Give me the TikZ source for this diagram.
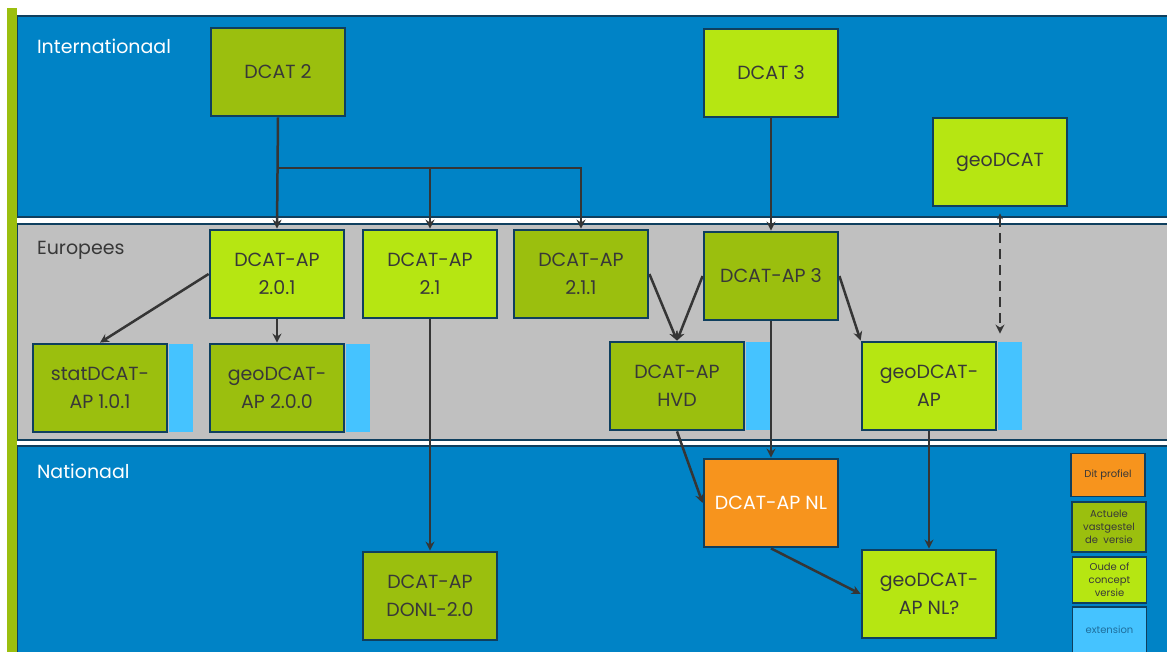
\documentclass[tikz,border=0pt]{standalone}
\usepackage{fontspec}
\setmainfont{Poppins}
\usetikzlibrary{arrows.meta, positioning}
\definecolor{bandblue}{HTML}{0083C6}
\definecolor{bandgray}{HTML}{C0C0C0}
\definecolor{edge}{HTML}{0F3F5E}
\definecolor{darkgreen}{HTML}{9BBF0E}
\definecolor{lime}{HTML}{B6E612}
\definecolor{nlorange}{HTML}{F7941D}
\definecolor{extblue}{HTML}{45C3FF}
\definecolor{textgray}{HTML}{383838}
\definecolor{linegray}{HTML}{353535}
\definecolor{exttext}{HTML}{1F6E9C}

\begin{document}
\begin{tikzpicture}[x=0.5pt, y=-0.5pt,
    spec/.style={rectangle, draw=edge, line width=1.4pt, minimum width=67pt, minimum height=44pt, align=center, text=textgray, font=\fontsize{9.5}{14}\selectfont},
    current/.style={spec, fill=darkgreen},
    concept/.style={spec, fill=lime},
    thisprofile/.style={spec, fill=nlorange, text=white},
    ext/.style={rectangle, fill=extblue, minimum width=12pt, minimum height=44pt, inner sep=0pt, anchor=west},
    link/.style={draw=linegray, line width=1.25pt, -{Stealth[length=4.5pt, width=4.5pt]}},
    band/.style={draw=edge, line width=1.2pt},
    bandlabel/.style={anchor=west, font=\fontsize{9.5}{12}\selectfont},
    legend/.style={rectangle, draw=edge, line width=0.6pt, minimum width=37pt, align=center, text=textgray, font=\fontsize{5}{6.5}\selectfont, inner sep=1pt},
]
    \useasboundingbox (0,0) rectangle (1167,652);
    % Bands
    \fill[white] (0,0) rectangle (1167,652);
    \draw[band, fill=bandblue] (17,16) rectangle (1180,217);
    \draw[band, fill=bandgray] (17,224) rectangle (1180,440);
    \draw[band, fill=bandblue] (17,446) rectangle (1180,665);
    \fill[darkgreen] (7,8) rectangle (17,652);
    \node[bandlabel, text=white] (intlabel) at (30,46) {Internationaal};
    \node[bandlabel, text=textgray] (eulabel) at (30,250) {Europees};
    \node[bandlabel, text=white] (nllabel) at (30,471) {Nationaal};

    % Internationaal
    \node[current] (dcat2) at (278,72) {DCAT 2};
    \node[concept] (dcat3) at (771,73) {DCAT 3};
    \node[concept] (geodcat) at (1000,162) {geoDCAT};

    % Europees
    \node[concept] (ap201) at (277,274) {DCAT-AP\\2.0.1};
    \node[concept] (ap21) at (430,274) {DCAT-AP\\2.1};
    \node[current] (ap211) at (581,274) {DCAT-AP\\2.1.1};
    \node[current] (ap3) at (771,276) {DCAT-AP 3};
    \node[current] (stat) at (100,388) {statDCAT-\\AP 1.0.1};
    \node[current] (geo200) at (277,388) {geoDCAT-\\AP 2.0.0};
    \node[current] (hvd) at (677,386) {DCAT-AP\\HVD};
    \node[concept] (geoap) at (929,386) {geoDCAT-\\AP};
    \node[ext] (statext) at (stat.east) {};
    \node[ext] (geo200ext) at (geo200.east) {};
    \node[ext] (hvdext) at (hvd.east) {};
    \node[ext] (geoapext) at (geoap.east) {};

    % Nationaal
    \node[thisprofile] (nl) at (771,503) {DCAT-AP NL};
    \node[concept] (geonl) at (929,594) {geoDCAT-\\AP NL?};
    \node[current] (donl) at (430,596) {DCAT-AP\\DONL-2.0};

    % Legend
    \node[legend, fill=nlorange, minimum height=21.5pt] (legprofile) at (1108,475) {Dit profiel};
    \node[legend, fill=darkgreen, minimum height=25pt] (legcurrent) at (1109,527) {Actuele\\vastgestel\\de\ \ versie};
    \node[legend, fill=lime, minimum height=23pt] (legconcept) at (1109.5,580) {Oude of\\concept\\versie};
    \node[legend, fill=extblue, minimum height=23pt, text=exttext] (legext) at (1109.5,630) {extension};

    % Connectors
    \coordinate (split) at (278,168);
    \draw[link] (dcat2.south) -- (ap201.north);
    \draw[link] (split) -| (ap21.north);
    \draw[link] (split) -| (ap211.north);
    \draw[link] (dcat3.south) -- (ap3.north);
    \draw[link] (ap201.west) -- (stat.north);
    \draw[link] (ap201.south) -- (geo200.north);
    \draw[link] (ap21.south) -- (donl.north);
    \draw[link] (ap211.east) -- (hvd.north);
    \draw[link] (ap3.west) -- (hvd.north);
    \draw[link] (ap3.south) -- (nl.north);
    \draw[link] (ap3.east) -- (geoap.north west);
    \draw[link] (hvd.south) -- (nl.west);
    \draw[link] (geoap.south) -- (geonl.north);
    \draw[link] (nl.south) -- (geonl.west);
    \draw[link, dash pattern=on 5pt off 3pt, {Stealth[length=3pt, width=3pt]}-{Stealth[length=4.5pt, width=4.5pt]}, shorten <=3pt, shorten >=4pt] (geodcat.south) -- (geodcat.south |- geoapext.north);
\end{tikzpicture}
\end{document}
